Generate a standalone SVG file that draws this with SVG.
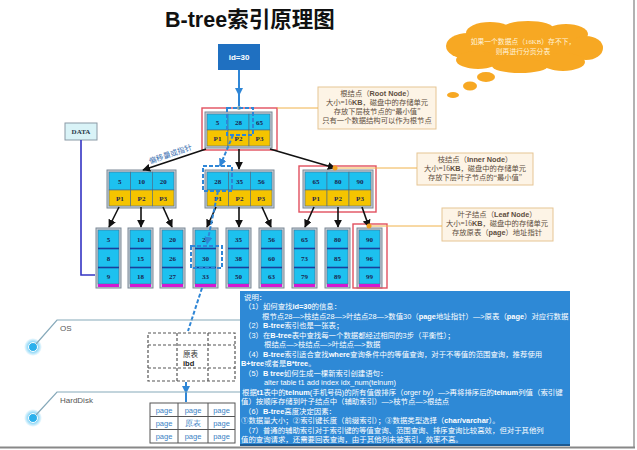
<svg xmlns="http://www.w3.org/2000/svg" width="637" height="450" viewBox="0 0 637 450">
<style>
.cy{fill:#1dc1ef;stroke:#4a6a86;stroke-width:.6}
.ye{fill:#f5c400;stroke:#4a6a86;stroke-width:.6}
.nb{fill:#c9d1d8;stroke:#7b8896;stroke-width:1}
.v{font-family:"Liberation Serif",serif;font-weight:bold;font-size:7px;fill:#1b2550;text-anchor:middle}
.ln{stroke:#111;stroke-width:1.6;fill:none;marker-end:url(#ah)}
.bd{stroke:#2f86d6;stroke-width:2;stroke-dasharray:4 2;fill:none}
.an{fill:#fdf4e6;stroke:#e6c594;stroke-width:1}
.at{font-family:"Liberation Serif","Noto Sans CJK SC",serif;font-size:7.3px;fill:#5e4e40;text-anchor:middle}
.ab{font-family:"Liberation Sans",sans-serif;font-weight:bold}
.ol{stroke:#f0b24a;stroke-width:1;fill:none}
.od{fill:#f0a020}
.red{fill:none;stroke:#e2505e;stroke-width:1.4}
.dv{stroke:#1a3f9a;stroke-width:1.6}
.mg{fill:#d21ad2}
.dt{font-family:"Liberation Sans","Noto Sans CJK SC",sans-serif;font-size:7.4px;fill:#ffffff}
.b{font-weight:bold}
.lay{stroke:#86a9ba;stroke-width:1.2;fill:none}
.lt{font-family:"Liberation Sans",sans-serif;font-size:8px;fill:#555}
.pg{font-family:"Liberation Sans",sans-serif;font-size:7.5px;fill:#3a7fc4;text-anchor:middle}
.tb{stroke:#555;stroke-width:1;fill:none}
.tbd{stroke:#555;stroke-width:1.2;fill:none;stroke-dasharray:3 2}
</style>
<defs>
<marker id="ah" viewBox="0 0 10 10" refX="9" refY="5" markerWidth="5" markerHeight="5" orient="auto"><path d="M0,0 L10,5 L0,10 z" fill="#111"/></marker>
<marker id="bh" viewBox="0 0 10 10" refX="9" refY="5" markerWidth="4" markerHeight="4" orient="auto"><path d="M0,0 L10,5 L0,10 z" fill="#2f86d6"/></marker>
<radialGradient id="glow"><stop offset="0.5" stop-color="#7fd2f6"/><stop offset="1" stop-color="#7fd2f6" stop-opacity="0"/></radialGradient>
</defs>
<rect width="637" height="450" fill="#fff"/>
<line x1="634" y1="0" x2="634" y2="447" stroke="#999" stroke-width="1.5"/>
<line x1="0" y1="447.5" x2="635" y2="447.5" stroke="#888" stroke-width="2"/>

<text x="165" y="27" font-family="Liberation Sans,Noto Sans CJK SC,sans-serif" font-weight="bold" font-size="21.5" fill="#111">B-tree索引原理图</text>

<g id="id30">
<rect x="218" y="44" width="42" height="26" fill="#1f70c1"/>
<text x="239" y="60" font-family="Liberation Sans,sans-serif" font-weight="bold" font-size="8" fill="#fff" text-anchor="middle">id=30</text>
</g>

<g id="cloud" fill="#f7a823">
<ellipse cx="523" cy="47" rx="72" ry="19"/>
<ellipse cx="468" cy="46" rx="22" ry="13"/>
<ellipse cx="490" cy="33" rx="24" ry="11"/>
<ellipse cx="528" cy="29" rx="26" ry="8"/>
<ellipse cx="566" cy="34" rx="22" ry="10"/>
<ellipse cx="586" cy="48" rx="17" ry="12"/>
<ellipse cx="563" cy="62" rx="22" ry="9"/>
<ellipse cx="520" cy="66" rx="28" ry="7"/>
<ellipse cx="478" cy="60" rx="22" ry="9"/>
<ellipse cx="486" cy="77" rx="9" ry="5"/>
<ellipse cx="470" cy="86" rx="7" ry="4.5"/>
<ellipse cx="453" cy="95" rx="6" ry="3"/>
<text x="523" y="44" font-family="Liberation Serif,Noto Sans CJK SC,serif" font-size="6.8" fill="#fff3da" text-anchor="middle">如果一个数据点（16KB）存不下，</text>
<text x="523" y="54" font-family="Liberation Serif,Noto Sans CJK SC,serif" font-size="6.8" fill="#fff3da" text-anchor="middle">则再进行分页分表</text>
</g>

<g id="data">
<rect x="65" y="123" width="32" height="17" fill="#d9f3f7" stroke="#8a9aa6"/>
<text x="81" y="134" font-family="Liberation Serif,serif" font-weight="bold" font-size="7" fill="#2a3a4a" text-anchor="middle">DATA</text>
</g>

<g id="root" transform="translate(205,112)">
<rect class="nb" x="0" y="0" width="67" height="36"/>
<rect class="cy" x="2" y="2" width="21" height="16"/><rect class="cy" x="23" y="2" width="21" height="16"/><rect class="cy" x="44" y="2" width="21" height="16"/>
<rect class="ye" x="2" y="18" width="21" height="16"/><rect class="ye" x="23" y="18" width="21" height="16"/><rect class="ye" x="44" y="18" width="21" height="16"/>
<text class="v" x="12.5" y="12.5">5</text><text class="v" x="33.5" y="12.5">28</text><text class="v" x="54.5" y="12.5">65</text>
<text class="v" x="12.5" y="28.5">P1</text><text class="v" x="33.5" y="28.5">P2</text><text class="v" x="54.5" y="28.5">P3</text>
</g>
<rect class="red" x="202" y="108" width="75" height="42"/>

<g id="inner1" transform="translate(107,170)">
<rect class="nb" x="0" y="0" width="69" height="38"/>
<rect class="cy" x="2" y="2" width="21.7" height="18"/><rect class="cy" x="23.7" y="2" width="21.7" height="18"/><rect class="cy" x="45.4" y="2" width="21.6" height="18"/>
<rect class="ye" x="2" y="20" width="21.7" height="16"/><rect class="ye" x="23.7" y="20" width="21.7" height="16"/><rect class="ye" x="45.4" y="20" width="21.6" height="16"/>
<text class="v" x="12.8" y="13.5">5</text><text class="v" x="34.5" y="13.5">10</text><text class="v" x="56.2" y="13.5">20</text>
<text class="v" x="12.8" y="30.5">P1</text><text class="v" x="34.5" y="30.5">P2</text><text class="v" x="56.2" y="30.5">P3</text>
</g>
<g id="inner2" transform="translate(205,170)">
<rect class="nb" x="0" y="0" width="69" height="38"/>
<rect class="cy" x="2" y="2" width="21.7" height="18"/><rect class="cy" x="23.7" y="2" width="21.7" height="18"/><rect class="cy" x="45.4" y="2" width="21.6" height="18"/>
<rect class="ye" x="2" y="20" width="21.7" height="16"/><rect class="ye" x="23.7" y="20" width="21.7" height="16"/><rect class="ye" x="45.4" y="20" width="21.6" height="16"/>
<text class="v" x="12.8" y="13.5">28</text><text class="v" x="34.5" y="13.5">35</text><text class="v" x="56.2" y="13.5">56</text>
<text class="v" x="12.8" y="30.5">P1</text><text class="v" x="34.5" y="30.5">P2</text><text class="v" x="56.2" y="30.5">P3</text>
</g>
<g id="inner3" transform="translate(303,170)">
<rect class="nb" x="0" y="0" width="70" height="38"/>
<rect class="cy" x="2" y="2" width="22" height="18"/><rect class="cy" x="24" y="2" width="22" height="18"/><rect class="cy" x="46" y="2" width="22" height="18"/>
<rect class="ye" x="2" y="20" width="22" height="16"/><rect class="ye" x="24" y="20" width="22" height="16"/><rect class="ye" x="46" y="20" width="22" height="16"/>
<text class="v" x="13" y="13.5">65</text><text class="v" x="35" y="13.5">80</text><text class="v" x="57" y="13.5">90</text>
<text class="v" x="13" y="30.5">P1</text><text class="v" x="35" y="30.5">P2</text><text class="v" x="57" y="30.5">P3</text>
</g>
<rect class="red" x="299" y="166" width="77" height="46"/>

<g id="leaves">
<g id="leaf1" transform="translate(96,228)"><rect class="nb" width="25" height="60"/><rect class="cy" x="2" y="2" width="21" height="54" stroke="none"/><line class="dv" x1="2" y1="20.5" x2="23" y2="20.5"/><line class="dv" x1="2" y1="39.5" x2="23" y2="39.5"/><rect class="mg" x="2" y="56" width="21" height="3"/><text class="v" x="12.5" y="14">5</text><text class="v" x="12.5" y="33">8</text><text class="v" x="12.5" y="51">9</text></g>
<g id="leaf2" transform="translate(128,228)"><rect class="nb" width="25" height="60"/><rect class="cy" x="2" y="2" width="21" height="54" stroke="none"/><line class="dv" x1="2" y1="20.5" x2="23" y2="20.5"/><line class="dv" x1="2" y1="39.5" x2="23" y2="39.5"/><rect class="mg" x="2" y="56" width="21" height="3"/><text class="v" x="12.5" y="14">10</text><text class="v" x="12.5" y="33">15</text><text class="v" x="12.5" y="51">18</text></g>
<g id="leaf3" transform="translate(160,228)"><rect class="nb" width="25" height="60"/><rect class="cy" x="2" y="2" width="21" height="54" stroke="none"/><line class="dv" x1="2" y1="20.5" x2="23" y2="20.5"/><line class="dv" x1="2" y1="39.5" x2="23" y2="39.5"/><rect class="mg" x="2" y="56" width="21" height="3"/><text class="v" x="12.5" y="14">20</text><text class="v" x="12.5" y="33">26</text><text class="v" x="12.5" y="51">27</text></g>
<g id="leaf4" transform="translate(193,228)"><rect class="nb" width="25" height="60"/><rect class="cy" x="2" y="2" width="21" height="54" stroke="none"/><line class="dv" x1="2" y1="20.5" x2="23" y2="20.5"/><line class="dv" x1="2" y1="39.5" x2="23" y2="39.5"/><rect class="mg" x="2" y="56" width="21" height="3"/><text class="v" x="12.5" y="14">28</text><text class="v" x="12.5" y="33">30</text><text class="v" x="12.5" y="51">33</text></g>
<g id="leaf5" transform="translate(226,228)"><rect class="nb" width="25" height="60"/><rect class="cy" x="2" y="2" width="21" height="54" stroke="none"/><line class="dv" x1="2" y1="20.5" x2="23" y2="20.5"/><line class="dv" x1="2" y1="39.5" x2="23" y2="39.5"/><rect class="mg" x="2" y="56" width="21" height="3"/><text class="v" x="12.5" y="14">35</text><text class="v" x="12.5" y="33">38</text><text class="v" x="12.5" y="51">50</text></g>
<g id="leaf6" transform="translate(259,228)"><rect class="nb" width="25" height="60"/><rect class="cy" x="2" y="2" width="21" height="54" stroke="none"/><line class="dv" x1="2" y1="20.5" x2="23" y2="20.5"/><line class="dv" x1="2" y1="39.5" x2="23" y2="39.5"/><rect class="mg" x="2" y="56" width="21" height="3"/><text class="v" x="12.5" y="14">56</text><text class="v" x="12.5" y="33">60</text><text class="v" x="12.5" y="51">63</text></g>
<g id="leaf7" transform="translate(292,228)"><rect class="nb" width="25" height="60"/><rect class="cy" x="2" y="2" width="21" height="54" stroke="none"/><line class="dv" x1="2" y1="20.5" x2="23" y2="20.5"/><line class="dv" x1="2" y1="39.5" x2="23" y2="39.5"/><rect class="mg" x="2" y="56" width="21" height="3"/><text class="v" x="12.5" y="14">65</text><text class="v" x="12.5" y="33">73</text><text class="v" x="12.5" y="51">79</text></g>
<g id="leaf8" transform="translate(325,228)"><rect class="nb" width="25" height="60"/><rect class="cy" x="2" y="2" width="21" height="54" stroke="none"/><line class="dv" x1="2" y1="20.5" x2="23" y2="20.5"/><line class="dv" x1="2" y1="39.5" x2="23" y2="39.5"/><rect class="mg" x="2" y="56" width="21" height="3"/><text class="v" x="12.5" y="14">80</text><text class="v" x="12.5" y="33">85</text><text class="v" x="12.5" y="51">89</text></g>
<g id="leaf9" transform="translate(357,228)"><rect class="nb" width="25" height="60"/><rect class="cy" x="2" y="2" width="21" height="54" stroke="none"/><line class="dv" x1="2" y1="20.5" x2="23" y2="20.5"/><line class="dv" x1="2" y1="39.5" x2="23" y2="39.5"/><rect class="mg" x="2" y="56" width="21" height="3"/><text class="v" x="12.5" y="14">90</text><text class="v" x="12.5" y="33">96</text><text class="v" x="12.5" y="51">99</text></g>
</g>
<rect class="red" x="353" y="224" width="34" height="64"/>

<g id="annotations">
<g id="rootNote"><rect class="an" x="318" y="87" width="118" height="42"/>
<text class="at" x="377" y="96">根结点（<tspan class="ab">Root Node</tspan>）</text>
<text class="at" x="377" y="105">大小=16<tspan class="ab">KB</tspan>，磁盘中的存储单元</text>
<text class="at" x="377" y="114">存放下层枝节点的“最小值”</text>
<text class="at" x="377" y="123">只有一个数据结构可以作为根节点</text></g>
<g id="innerNote"><rect class="an" x="417" y="153" width="116" height="32"/>
<text class="at" x="475" y="162">枝结点（<tspan class="ab">Inner Node</tspan>）</text>
<text class="at" x="475" y="171">大小=16<tspan class="ab">KB</tspan>，磁盘中的存储单元</text>
<text class="at" x="475" y="180">存放下层叶子节点的“最小值”</text></g>
<g id="leafNote"><rect class="an" x="442" y="208" width="111" height="33"/>
<text class="at" x="497" y="217">叶子结点（<tspan class="ab">Leaf Node</tspan>）</text>
<text class="at" x="497" y="226">大小=16<tspan class="ab">KB</tspan>，磁盘中的存储单元</text>
<text class="at" x="497" y="235">存放原表（<tspan class="ab">page</tspan>）地址指针</text></g>
</g>

<g id="connectors">
<line class="ol" x1="277" y1="108" x2="318" y2="108"/>
<line class="ol" x1="335" y1="168" x2="417" y2="168"/>
<line class="ol" x1="369" y1="226" x2="442" y2="226"/>
<path d="M81,140 V275 H95" stroke="#3434c4" stroke-width="1.6" fill="none"/>
<line class="ln" x1="206" y1="149" x2="143" y2="170"/>
<line class="ln" x1="239" y1="149" x2="239" y2="169"/>
<line class="ln" x1="270" y1="149" x2="335" y2="168"/>
<line class="ln" x1="119" y1="207" x2="109" y2="227"/>
<line class="ln" x1="141" y1="207" x2="141" y2="227"/>
<line class="ln" x1="163" y1="207" x2="172" y2="227"/>
<line class="ln" x1="216" y1="207" x2="207" y2="227"/>
<line class="ln" x1="239" y1="207" x2="239" y2="227"/>
<line class="ln" x1="262" y1="207" x2="271" y2="227"/>
<line class="ln" x1="314" y1="207" x2="305" y2="227"/>
<line class="ln" x1="338" y1="207" x2="338" y2="227"/>
<line class="ln" x1="362" y1="207" x2="369" y2="227"/>
<circle class="od" cx="335" cy="168" r="2.5"/>
<circle class="od" cx="369" cy="226" r="2.5"/>
<circle cx="239" cy="108" r="2" fill="#8aa"/>
<text font-family="Liberation Serif,Noto Sans CJK SC,serif" font-size="7.5" fill="#3a6fb0" transform="translate(150,164) rotate(-19)">偏移量或指针</text>
<line x1="239" y1="70" x2="239" y2="106" stroke="#2f86d6" stroke-width="2"/>
<path d="M235,88 L239,96 L243,88 z" fill="#2f86d6"/>
<rect class="bd" x="227" y="108" width="26" height="27"/>
<line class="bd" x1="233" y1="135" x2="220" y2="166" marker-end="url(#bh)"/>
<rect class="bd" x="203" y="166" width="29" height="25"/>
<line class="bd" x1="218" y1="191" x2="207" y2="244" marker-end="url(#bh)"/>
<rect class="bd" x="191" y="246" width="31" height="22"/>
<line class="bd" x1="202" y1="288" x2="188" y2="331"/>
<line x1="186" y1="382" x2="186" y2="402" stroke="#2f86d6" stroke-width="2"/>
<path d="M182,386 L186,394 L190,386 z" fill="#2f86d6"/>
</g>

<g id="layers">
<circle cx="33" cy="347" r="9" fill="url(#glow)"/>
<circle cx="33" cy="347" r="4.5" fill="#2cb0ec" stroke="#fff" stroke-width="1"/>
<path class="lay" d="M36,344 L57,320 H240"/>
<text class="lt" x="60" y="331">OS</text>
<circle cx="33" cy="418" r="9" fill="url(#glow)"/>
<circle cx="33" cy="418" r="4.5" fill="#2cb0ec" stroke="#fff" stroke-width="1"/>
<path class="lay" d="M36,415 L57,392 H240"/>
<text class="lt" x="60" y="403">HardDisk</text>
</g>

<g id="osTable">
<rect class="tbd" x="148" y="333" width="87" height="48"/>
<line class="tbd" x1="177" y1="333" x2="177" y2="381"/>
<line class="tbd" x1="208" y1="333" x2="208" y2="381"/>
<line class="tbd" x1="148" y1="345" x2="235" y2="345"/>
<line class="tbd" x1="148" y1="368" x2="235" y2="368"/>
<text x="183" y="357" font-family="Liberation Serif,Noto Sans CJK SC,serif" font-size="7.5" fill="#333">原表</text>
<text x="183" y="366" font-family="Liberation Sans,sans-serif" font-weight="bold" font-size="7.5" fill="#222">ibd</text>
</g>

<g id="pageTable">
<rect class="tb" x="150" y="403" width="85" height="40"/>
<line class="tb" x1="178" y1="403" x2="178" y2="443"/>
<line class="tb" x1="208" y1="403" x2="208" y2="443"/>
<line class="tb" x1="150" y1="416.5" x2="235" y2="416.5"/>
<line class="tb" x1="150" y1="429.5" x2="235" y2="429.5"/>
<text class="pg" x="164" y="413">page</text><text class="pg" x="193" y="413">page</text><text class="pg" x="221.5" y="413">page</text>
<text class="pg" x="164" y="426">page</text><text class="pg" x="193" y="426" fill="#333" font-family="Liberation Serif,Noto Sans CJK SC,serif">原表</text><text class="pg" x="221.5" y="426">page</text>
<text class="pg" x="164" y="439">page</text><text class="pg" x="193" y="439">page</text><text class="pg" x="221.5" y="439">page</text>
</g>

<g id="desc">
<rect x="240" y="291" width="330" height="155" fill="#2e89d6"/>
<line x1="240" y1="445" x2="570" y2="445" stroke="#1d5a92" stroke-width="2"/>
<text class="dt" x="244" y="300">说明：</text>
<text class="dt" x="244" y="309">（1）如何查找<tspan class="b">id=30</tspan>的信息：</text>
<text class="dt" x="262" y="319" font-size="6.5">根节点28—&gt;枝结点28—&gt;叶结点28—&gt;数值30（<tspan class="b">page</tspan>地址指针）—&gt;原表（<tspan class="b">page</tspan>）对应行数据</text>
<text class="dt" x="244" y="328">（2）<tspan class="b">B-tree</tspan>索引也是一张表；</text>
<text class="dt" x="244" y="338">（3）在<tspan class="b">B-tree</tspan>表中查找每一个数据都经过相同的3步（平衡性）；</text>
<text class="dt" x="264" y="347">根结点—&gt;枝结点—&gt;叶结点—&gt;数据</text>
<text class="dt" x="244" y="357">（4）<tspan class="b">B-tree</tspan>索引适合查找<tspan class="b">where</tspan>查询条件中的等值查询，对于不等值的范围查询，推荐使用</text>
<text class="dt" x="241" y="366"><tspan class="b">B+tree</tspan>或者是<tspan class="b">B*tree</tspan>。</text>
<text class="dt" x="244" y="376">（5）<tspan class="b">B  tree</tspan>如何生成一棵新索引创建语句：</text>
<text class="dt" x="264" y="385">alter table t1 add index idx_num(telnum)</text>
<text class="dt" x="242" y="395">根据<tspan class="b">t1</tspan>表中的<tspan class="b">telnum</tspan>(手机号码)的所有值做排序（orger by）—&gt;再将排序后的<tspan class="b">telnum</tspan>列值（索引键</text>
<text class="dt" x="241" y="404">值）按顺序存储到叶子结点中（辅助索引）—&gt;枝节点—&gt;根结点</text>
<text class="dt" x="244" y="414">（6）<tspan class="b">B-tree</tspan>高度决定因素：</text>
<text class="dt" x="241" y="423">①数据量大小；②索引键长度（前缀索引）；③数据类型选择（<tspan class="b">char/varchar</tspan>）。</text>
<text class="dt" x="244" y="433">（7）普通的辅助索引对于索引键的等值查询、范围查询、排序查询比较高效，但对于其他列</text>
<text class="dt" x="241" y="442">值的查询请求，还需要回表查询，由于其他列未被索引，效率不高。</text>
</g>
</svg>
